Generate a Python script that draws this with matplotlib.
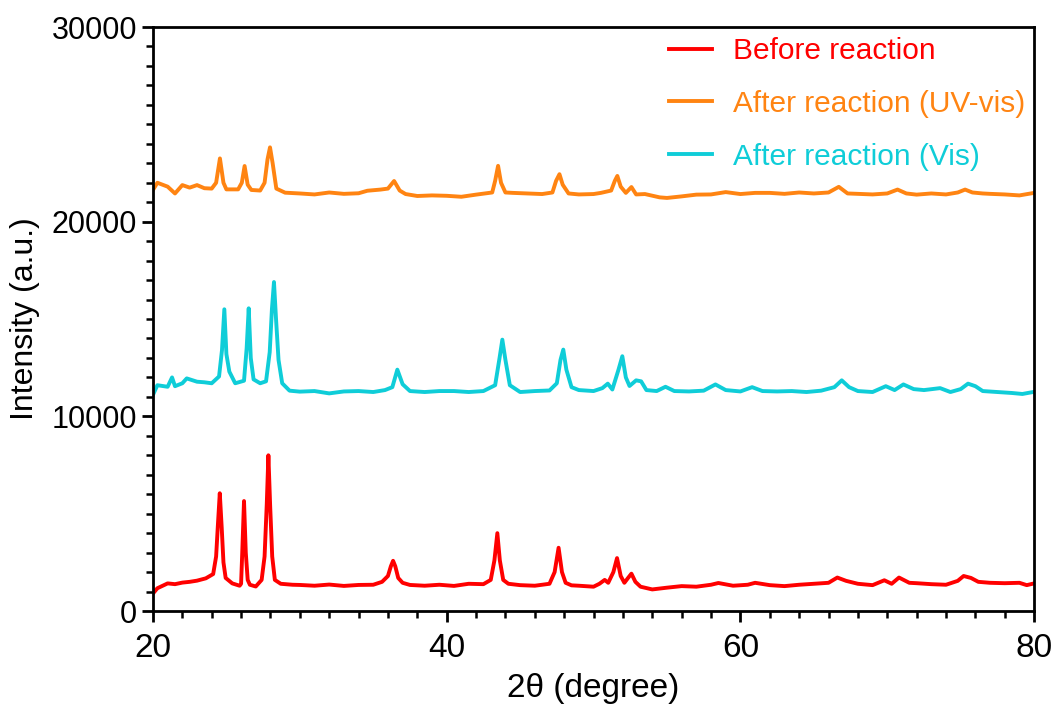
import matplotlib
matplotlib.use("Agg")
import matplotlib.pyplot as plt
from matplotlib.ticker import MultipleLocator

# XRD patterns (2theta in degrees, intensity in a.u.)
before_x = [20.0, 20.3, 21.0, 21.5, 22.0, 22.5, 23.0, 23.6, 24.1, 24.3, 24.42, 24.55, 24.68, 24.8,
            24.95, 25.4, 25.9, 26.0, 26.08, 26.2, 26.32, 26.45, 26.6, 27.0, 27.4, 27.6, 27.75, 27.86,
            27.98, 28.12, 28.3, 28.7, 29.5, 30.0, 31.0, 32.0, 33.0, 34.0, 35.0, 35.6, 36.0, 36.2,
            36.35, 36.5, 36.7, 37.0, 37.5, 38.5, 39.5, 40.5, 41.5, 42.5, 43.0, 43.25, 43.45, 43.62,
            43.85, 44.2, 45.0, 46.0, 47.0, 47.35, 47.62, 47.85, 48.1, 48.5, 49.0, 50.0, 50.4, 50.76,
            51.0, 51.35, 51.6, 51.85, 52.1, 52.35, 52.58, 52.85, 53.2, 54.0, 55.0, 56.0, 57.0, 58.0,
            58.5, 59.5, 60.5, 61.0, 62.0, 63.0, 64.0, 65.0, 66.0, 66.6, 67.2, 68.0, 69.0, 69.8,
            70.3, 70.8, 71.5, 72.0, 73.0, 74.0, 74.8, 75.2, 75.7, 76.2, 77.0, 78.0, 79.0, 79.5, 80.0]
before_y = [900, 1170, 1420, 1380, 1460, 1500, 1560, 1680, 1900, 2800, 4400, 6050, 4300, 2500,
            1700, 1420, 1300, 1400, 3000, 5650, 3000, 1600, 1350, 1260, 1600, 2800, 5500, 8000,
            5400, 2800, 1600, 1400, 1350, 1340, 1300, 1360, 1290, 1340, 1350, 1500, 1800, 2300,
            2580, 2300, 1700, 1450, 1340, 1300, 1350, 1290, 1400, 1380, 1600, 2600, 4000, 2600,
            1600, 1400, 1330, 1300, 1400, 2000, 3250, 2000, 1450, 1320, 1300, 1250, 1400, 1600,
            1450, 2000, 2720, 1800, 1450, 1700, 1920, 1500, 1250, 1110, 1200, 1280, 1250, 1350,
            1440, 1300, 1350, 1450, 1330, 1280, 1350, 1400, 1450, 1720, 1550, 1400, 1330, 1580,
            1400, 1720, 1450, 1430, 1380, 1350, 1550, 1800, 1700, 1500, 1450, 1430, 1450, 1330, 1420]

uvvis_x = [20.0, 20.3, 21.0, 21.5, 22.0, 22.5, 23.0, 23.5, 24.0, 24.3, 24.56, 24.8, 25.0, 25.8,
           26.05, 26.24, 26.45, 26.7, 27.3, 27.6, 27.8, 27.97, 28.15, 28.4, 29.0, 30.0, 31.0, 32.0,
           33.0, 34.0, 34.6, 35.5, 36.0, 36.42, 36.8, 37.2, 38.0, 39.0, 40.0, 41.0, 42.0, 43.1,
           43.3, 43.5, 43.7, 44.0, 44.5, 45.5, 46.5, 47.2, 47.45, 47.68, 47.9, 48.3, 49.0, 50.0,
           50.5, 51.2, 51.45, 51.62, 51.85, 52.2, 52.58, 52.9, 53.5, 54.5, 55.0, 56.0, 57.0, 58.0,
           59.0, 60.0, 61.0, 62.0, 63.0, 64.0, 65.0, 66.0, 66.7, 67.3, 68.0, 69.0, 70.0, 70.7,
           71.3, 72.0, 73.0, 74.0, 74.8, 75.3, 75.8, 76.5, 77.0, 78.0, 79.0, 80.0]
uvvis_y = [21630, 22000, 21800, 21450, 21880, 21750, 21880, 21720, 21700, 22000, 23250, 22000, 21660, 21660,
           22000, 22860, 21900, 21630, 21600, 22000, 23200, 23820, 23000, 21700, 21490, 21450, 21400, 21500,
           21430, 21460, 21590, 21650, 21700, 22090, 21600, 21420, 21320, 21350, 21330, 21280, 21390, 21500,
           22100, 22870, 22000, 21500, 21480, 21450, 21420, 21500, 22100, 22440, 21900, 21450, 21400, 21420,
           21480, 21600, 22100, 22350, 21800, 21480, 21780, 21400, 21420, 21250, 21220, 21300, 21390, 21400,
           21520, 21420, 21480, 21480, 21430, 21500, 21450, 21500, 21790, 21450, 21430, 21400, 21450, 21650,
           21450, 21390, 21450, 21400, 21500, 21650, 21500, 21450, 21430, 21400, 21350, 21480]

vis_x = [20.0, 20.3, 21.0, 21.3, 21.5, 22.0, 22.3, 23.0, 23.5, 24.0, 24.5, 24.7, 24.86, 25.0,
         25.2, 25.6, 26.2, 26.38, 26.52, 26.66, 26.85, 27.3, 27.7, 27.95, 28.1, 28.24, 28.38, 28.55,
         28.8, 29.3, 30.0, 31.0, 32.0, 33.0, 34.0, 35.0, 35.8, 36.3, 36.64, 37.0, 37.5, 38.5,
         39.5, 40.5, 41.5, 42.5, 43.3, 43.6, 43.79, 44.0, 44.3, 45.0, 46.0, 47.0, 47.5, 47.75,
         47.94, 48.15, 48.5, 49.0, 50.0, 50.6, 50.97, 51.28, 51.7, 51.96, 52.2, 52.45, 52.9, 53.24,
         53.6, 54.3, 54.9, 55.5, 56.5, 57.5, 58.3, 59.0, 60.0, 60.8, 61.5, 62.5, 63.5, 64.5,
         65.5, 66.4, 66.9, 67.4, 68.0, 69.0, 69.9, 70.5, 71.1, 71.8, 72.5, 73.6, 74.3, 75.0,
         75.5, 76.0, 76.5, 77.5, 78.5, 79.2, 80.0]
vis_y = [11100, 11600, 11520, 12000, 11550, 11700, 11950, 11780, 11750, 11700, 12050, 13400, 15500, 13200,
         12300, 11700, 11830, 13500, 15550, 13000, 11900, 11700, 11800, 13300, 15500, 16900, 15000, 12900,
         11700, 11320, 11270, 11300, 11180, 11280, 11300, 11250, 11350, 11500, 12400, 11650, 11300, 11250,
         11300, 11300, 11250, 11300, 11600, 13000, 13940, 12900, 11600, 11250, 11300, 11330, 11700, 12900,
         13430, 12400, 11500, 11350, 11300, 11450, 11680, 11380, 12400, 13090, 12000, 11560, 11850, 11800,
         11350, 11300, 11520, 11300, 11280, 11320, 11640, 11350, 11280, 11500, 11300, 11280, 11300, 11250,
         11320, 11500, 11850, 11500, 11300, 11250, 11550, 11350, 11640, 11400, 11350, 11450, 11250, 11400,
         11680, 11550, 11300, 11250, 11200, 11150, 11260]

labels = ["Before reaction", "After reaction (UV-vis)", "After reaction (Vis)"]
colors = ["#ff0000", "#ff8412", "#0fcdd8"]

plt.rcParams["font.family"] = ["Liberation Sans", "DejaVu Sans"]

fig = plt.figure(figsize=(10.52, 7.11), dpi=100)
ax = fig.add_axes([0.1454, 0.1406, 0.8376, 0.8214])

ax.plot(before_x, before_y, color=colors[0], lw=2.8, label=labels[0])
ax.plot(uvvis_x, uvvis_y, color=colors[1], lw=2.8, label=labels[1])
ax.plot(vis_x, vis_y, color=colors[2], lw=2.8, label=labels[2])

ax.set_xlim(20, 80)
ax.set_ylim(0, 30000)
ax.xaxis.set_major_locator(MultipleLocator(20))
ax.xaxis.set_minor_locator(MultipleLocator(2))
ax.yaxis.set_major_locator(MultipleLocator(10000))
ax.yaxis.set_minor_locator(MultipleLocator(1000))

for s in ax.spines.values():
    s.set_linewidth(2.0)
ax.tick_params(which="major", length=8, width=2.0, direction="out")
ax.tick_params(which="minor", length=5, width=1.8, direction="out")
ax.tick_params(axis="y", labelsize=22)
ax.tick_params(axis="x", labelsize=24, pad=8)

ax.set_xlabel("2θ (degree)", fontsize=24, labelpad=6)
ax.set_ylabel("Intensity (a.u.)", fontsize=23, labelpad=8)

ax.legend(loc="upper right", bbox_to_anchor=(1.0, 0.998), frameon=False, fontsize=21.5,
          handlelength=1.45, handletextpad=0.7, labelspacing=0.83, borderaxespad=0,
          borderpad=0.3, labelcolor="linecolor")

fig.savefig("out.png", dpi=100)
